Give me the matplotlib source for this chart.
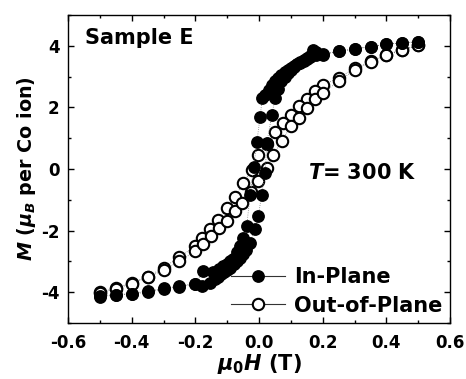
import matplotlib
matplotlib.use("Agg")
import matplotlib.pyplot as plt
from matplotlib.lines import Line2D
from matplotlib.ticker import MultipleLocator, FormatStrFormatter

plt.rcParams['font.family'] = ['DejaVu Sans']
plt.rcParams['font.weight'] = 'bold'
plt.rcParams['axes.labelweight'] = 'bold'
plt.rcParams['axes.unicode_minus'] = False
plt.rcParams['mathtext.fontset'] = 'custom'
plt.rcParams['mathtext.rm'] = 'DejaVu Sans:bold'
plt.rcParams['mathtext.bf'] = 'DejaVu Sans:bold'
plt.rcParams['mathtext.it'] = 'DejaVu Sans:bold:italic'

# In-plane, field sweep down (+0.5 -> -0.5)
h_ip_down = [0.5, 0.45, 0.4, 0.35, 0.3, 0.25, 0.2, 0.18, 0.17, 0.16, 0.15, 0.14, 0.13,
             0.12, 0.11, 0.1, 0.09, 0.08, 0.07, 0.06, 0.05, 0.04, 0.03, 0.02, 0.01,
             0.003, -0.007, -0.017, -0.028, -0.039, -0.049, -0.06, -0.07, -0.081, -0.09,
             -0.1, -0.112, -0.125, -0.144, -0.175, -0.2, -0.25, -0.3, -0.35, -0.4, -0.45, -0.5]
m_ip_down = [4.13, 4.10, 4.05, 3.98, 3.90, 3.82, 3.72, 3.80, 3.86, 3.65, 3.58, 3.52, 3.45,
             3.42, 3.36, 3.28, 3.22, 3.15, 3.05, 2.95, 2.85, 2.72, 2.58, 2.40, 2.30,
             1.68, 0.88, 0.06, -0.83, -1.86, -2.23, -2.50, -2.68, -2.93, -3.00,
             -3.08, -3.15, -3.25, -3.36, -3.31, -3.74, -3.82, -3.90, -4.01, -4.05, -4.08, -4.12]

# In-plane, field sweep up (-0.5 -> +0.5)
h_ip_up = [-0.5, -0.45, -0.4, -0.35, -0.3, -0.25, -0.2, -0.18, -0.154, -0.14, -0.13, -0.12,
           -0.11, -0.1, -0.09, -0.08, -0.07, -0.06, -0.05, -0.04, -0.028, -0.013, -0.002,
           0.008, 0.019, 0.024, 0.04, 0.05, 0.06, 0.07, 0.08, 0.09, 0.1, 0.11, 0.12, 0.13,
           0.14, 0.15, 0.16, 0.18, 0.2, 0.25, 0.3, 0.35, 0.4, 0.45, 0.5]
m_ip_up = [-4.15, -4.10, -4.05, -3.96, -3.88, -3.80, -3.72, -3.80, -3.69, -3.58, -3.50, -3.42,
           -3.36, -3.28, -3.20, -3.10, -3.00, -2.88, -2.75, -2.62, -2.39, -1.96, -1.51,
           -0.83, -0.13, 0.84, 1.76, 2.30, 2.60, 2.85, 3.00, 3.12, 3.22, 3.32, 3.40, 3.48,
           3.55, 3.60, 3.66, 3.70, 3.75, 3.83, 3.90, 3.98, 4.06, 4.10, 4.14]

# Out-of-plane, field sweep down
h_oop_down = [0.5, 0.45, 0.4, 0.35, 0.3, 0.25, 0.2, 0.175, 0.15, 0.125, 0.1, 0.075, 0.05,
              0.025, -0.002, -0.023, -0.05, -0.075, -0.1, -0.128, -0.154, -0.18, -0.2,
              -0.25, -0.3, -0.35, -0.4, -0.45, -0.5]
m_oop_down = [4.02, 3.88, 3.72, 3.50, 3.27, 2.97, 2.72, 2.52, 2.28, 2.05, 1.75, 1.48, 1.20,
              0.82, 0.46, -0.02, -0.45, -0.90, -1.28, -1.64, -1.96, -2.23, -2.50,
              -2.86, -3.20, -3.50, -3.70, -3.87, -4.00]

# Out-of-plane, field sweep up
h_oop_up = [-0.5, -0.45, -0.4, -0.35, -0.3, -0.25, -0.2, -0.175, -0.15, -0.125, -0.102,
            -0.075, -0.054, -0.025, -0.002, 0.024, 0.045, 0.071, 0.1, 0.125, 0.15, 0.175,
            0.2, 0.25, 0.3, 0.35, 0.4, 0.45, 0.5]
m_oop_up = [-4.03, -3.90, -3.72, -3.52, -3.28, -3.00, -2.66, -2.45, -2.18, -1.92, -1.69,
            -1.37, -1.10, -0.75, -0.40, 0.03, 0.46, 0.90, 1.40, 1.65, 1.98, 2.28,
            2.48, 2.85, 3.22, 3.48, 3.70, 3.86, 4.02]

FS = 15      # labels / annotations
TFS = 12     # tick labels
MS = 8.2

fig = plt.figure(figsize=(4.66, 3.79), dpi=100)
ax = fig.add_axes([0.146, 0.148, 0.820, 0.812])

line_kw = dict(color='gray', linestyle=':', linewidth=0.6, markersize=MS)
ax.plot(h_oop_down + h_oop_up, m_oop_down + m_oop_up, marker='o', markerfacecolor='white',
        markeredgecolor='black', markeredgewidth=1.5, zorder=2, **line_kw)
ax.plot(h_ip_down + h_ip_up, m_ip_down + m_ip_up, marker='o', markerfacecolor='black',
        markeredgecolor='black', zorder=3, **line_kw)

ax.set_xlim(-0.6, 0.6)
ax.set_ylim(-5, 5)
ax.xaxis.set_major_locator(MultipleLocator(0.2))
ax.xaxis.set_minor_locator(MultipleLocator(0.1))
ax.xaxis.set_major_formatter(FormatStrFormatter('%.1f'))
ax.yaxis.set_major_locator(MultipleLocator(2))
ax.yaxis.set_minor_locator(MultipleLocator(1))
ax.tick_params(which='both', direction='in', top=True, right=True, labelsize=TFS, width=1.0)
ax.tick_params(which='major', length=4.5)
ax.tick_params(which='minor', length=2.5)
ax.tick_params(axis='x', which='major', pad=8)
ax.tick_params(axis='y', which='major', pad=6)
for s in ax.spines.values():
    s.set_linewidth(1.0)

ax.set_xlabel(r'$\mu_0H$ (T)', fontsize=FS, labelpad=0)
ax.set_ylabel(r'$M$ ($\mu_B$ per Co ion)', fontsize=13.8, labelpad=2)

ax.text(0.045, 0.925, 'Sample E', transform=ax.transAxes, fontsize=FS,
        ha='left', va='center')
ax.text(0.628, 0.487, r'$T$= 300 K', transform=ax.transAxes, fontsize=FS,
        ha='left', va='center')

handles = [
    Line2D([], [], color='#333333', linewidth=0.8, marker='o', markersize=MS,
           markerfacecolor='black', markeredgecolor='black'),
    Line2D([], [], color='#333333', linewidth=0.8, marker='o', markersize=MS,
           markerfacecolor='white', markeredgecolor='black', markeredgewidth=1.5),
]
ax.legend(handles, ['In-Plane', 'Out-of-Plane'], loc='lower right', frameon=False,
          fontsize=FS, handlelength=2.6, handletextpad=0.45, labelspacing=0.4,
          borderaxespad=0.15, borderpad=0.2)

fig.savefig('out.png', dpi=100)
